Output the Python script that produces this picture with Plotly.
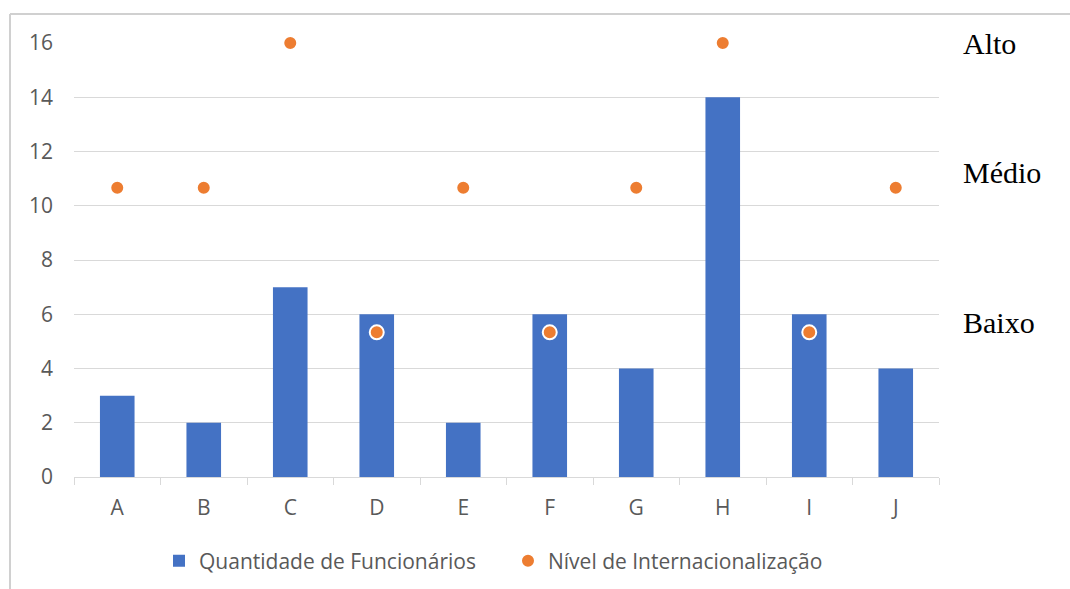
import plotly.graph_objects as go

# Companies and their data
empresas = ["A", "B", "C", "D", "E", "F", "G", "H", "I", "J"]
funcionarios = [3, 2, 7, 6, 2, 6, 4, 14, 6, 4]
# Internationalisation level on the 0-16 scale: Baixo=16/3, Médio=32/3, Alto=16
nivel_valores = {"Baixo": 16 / 3, "Médio": 32 / 3, "Alto": 16}
nivel = ["Médio", "Médio", "Alto", "Baixo", "Médio", "Baixo", "Médio", "Alto", "Baixo", "Médio"]
nivel_y = [nivel_valores[n] for n in nivel]
y_ticks = [0, 2, 4, 6, 8, 10, 12, 14, 16]

BLUE = "#4472C4"
ORANGE = "#ED7D31"
GRID = "#D9D9D9"
TEXT = "#595959"
FONT = "Open Sans"

fig = go.Figure()
fig.add_trace(go.Bar(
    x=empresas, y=funcionarios, name="Quantidade de Funcionários",
    marker=dict(color=BLUE, line=dict(width=0)),
))
fig.add_trace(go.Scatter(
    x=empresas, y=nivel_y, mode="markers", name="Nível de Internacionalização",
    marker=dict(color=ORANGE, size=14, line=dict(color="white", width=2)),
    cliponaxis=False,
))

# Level labels on the right side
for txt, ypx in [("Alto", 43), ("Médio", 172), ("Baixo", 322)]:
    fig.add_annotation(
        text=txt, xref="paper", yref="paper",
        x=(961 - 74) / 865, y=(477 - ypx) / 434,
        xanchor="left", yanchor="middle", showarrow=False,
        font=dict(family="Liberation Serif", size=30, color="black"),
    )

# Light frame around the chart area (left and top edges)
fig.add_shape(type="line", xref="paper", yref="paper",
              x0=(10 - 74) / 865, x1=(10 - 74) / 865,
              y0=(477 - 14) / 434, y1=(477 - 600) / 434,
              line=dict(color="#D0D0D0", width=2))
fig.add_shape(type="line", xref="paper", yref="paper",
              x0=(10 - 74) / 865, x1=(1075 - 74) / 865,
              y0=(477 - 14) / 434, y1=(477 - 14) / 434,
              line=dict(color="#D0D0D0", width=2))

fig.update_layout(
    width=1070, height=589,
    margin=dict(l=74, r=131, t=43, b=112, autoexpand=False),
    paper_bgcolor="white", plot_bgcolor="white",
    bargap=0.6,
    showlegend=True,
    legend=dict(orientation="h", x=(159 - 74) / 865, y=(477 - 561) / 434,
                xanchor="left", yanchor="middle",
                font=dict(family=FONT, size=21, color=TEXT),
                itemwidth=30, entrywidth=304, tracegroupgap=0),
    font=dict(family=FONT, color=TEXT),
)
fig.update_xaxes(
    type="category", range=[-0.5, 9.5], showgrid=False, automargin=False,
    showline=True, linecolor=GRID, linewidth=1,
    ticks="outside", tickson="boundaries", ticklen=7, tickcolor=GRID,
    ticklabelstandoff=12,
    tickfont=dict(family=FONT, size=21, color=TEXT),
)
fig.update_yaxes(
    range=[0, 16], tickvals=y_ticks, automargin=False,
    showgrid=True, gridcolor=GRID, gridwidth=1,
    zeroline=False, showline=False, ticks="",
    ticklabelstandoff=20,
    tickfont=dict(family=FONT, size=21, color=TEXT),
)

fig.write_html("out.html")
